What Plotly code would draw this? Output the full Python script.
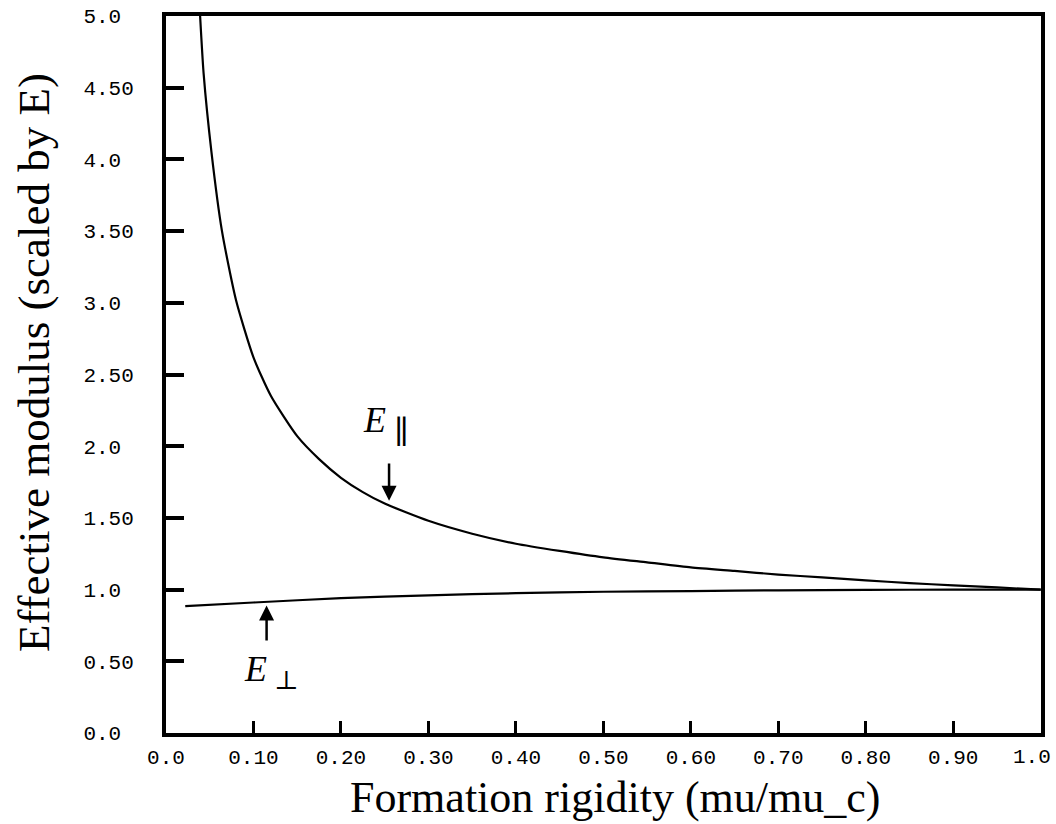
import plotly.graph_objects as go

# Data
x_par = [0.039, 0.043, 0.052, 0.064, 0.08, 0.10, 0.12, 0.15, 0.175, 0.20, 0.225, 0.25, 0.30,
         0.35, 0.40, 0.45, 0.50, 0.55, 0.60, 0.65, 0.70, 0.75, 0.80, 0.85, 0.90, 0.95, 1.00]
e_par = [5.0, 4.6, 4.05, 3.5, 3.02, 2.62, 2.35, 2.07, 1.91, 1.78, 1.68, 1.60, 1.48,
         1.39, 1.32, 1.27, 1.225, 1.19, 1.155, 1.13, 1.105, 1.085, 1.065, 1.045, 1.03, 1.015, 1.00]

x_perp = [0.022, 0.10, 0.20, 0.30, 0.40, 0.50, 0.60, 0.70, 0.80, 0.90, 1.00]
e_perp = [0.885, 0.91, 0.94, 0.96, 0.975, 0.985, 0.99, 0.995, 0.998, 1.0, 1.0]

x_tickvals = [0.0, 0.1, 0.2, 0.3, 0.4, 0.5, 0.6, 0.7, 0.8, 0.9, 1.0]
x_ticktext = ["0.0", "0.10", "0.20", "0.30", "0.40", "0.50", "0.60", "0.70", "0.80", "0.90", "1.0"]
y_tickvals = [0.0, 0.5, 1.0, 1.5, 2.0, 2.5, 3.0, 3.5, 4.0, 4.5, 5.0]
y_ticktext = ["0.0", "0.50", "1.0", "1.50", "2.0", "2.50", "3.0", "3.50", "4.0", "4.50", "5.0"]

NB = "\u00a0"
y_ticktext_padded = [t + NB * (4 - len(t)) for t in y_ticktext]
# the last x label sits flush with the right edge; it is drawn as a right-anchored text below
x_ticktext_drawn = x_ticktext[:-1] + [""]

fig = go.Figure()
fig.add_trace(go.Scatter(x=x_par, y=e_par, mode="lines", line_shape="spline",
                         line=dict(color="black", width=2.2, smoothing=0.6), showlegend=False))
fig.add_trace(go.Scatter(x=x_perp, y=e_perp, mode="lines", line_shape="spline",
                         line=dict(color="black", width=2.2, smoothing=0.6), showlegend=False))

tickfont = dict(family="Liberation Mono, Courier New, monospace", size=21, color="black")
serif = "Liberation Serif, Times New Roman, serif"
symfont = "DejaVu Serif, DejaVu Sans, serif"

fig.update_xaxes(range=[0, 1.0003], tickvals=x_tickvals, ticktext=x_ticktext_drawn,
                 showline=True, linecolor="black", linewidth=4, mirror=True,
                 ticks="inside", ticklen=12, tickwidth=3, tickcolor="black",
                 showgrid=False, zeroline=False, tickfont=tickfont,
                 ticklabelstandoff=2, automargin=False)
fig.update_yaxes(range=[0, 5.0003], tickvals=y_tickvals, ticktext=y_ticktext_padded,
                 showline=True, linecolor="black", linewidth=4, mirror=True,
                 ticks="inside", ticklen=18, tickwidth=4, tickcolor="black",
                 showgrid=False, zeroline=False, tickfont=tickfont,
                 ticklabelstandoff=24, automargin=False)

annotations = [
    # last x tick label
    dict(text=x_ticktext[-1], xref="paper", yref="paper", x=1.0137, y=-0.034,
         xanchor="right", yanchor="middle", showarrow=False, font=tickfont),
    # axis titles
    dict(text="Effective modulus (scaled by E)", xref="paper", yref="paper",
         x=-0.15, y=0.517, textangle=-90, showarrow=False,
         xanchor="center", yanchor="middle",
         font=dict(family=serif, size=45, color="black")),
    dict(text="Formation rigidity (mu/mu_c)", xref="paper", yref="paper",
         x=0.513, y=-0.0905, showarrow=False, xanchor="center", yanchor="middle",
         font=dict(family=serif, size=44, color="black")),
    # labels
    dict(text="<i>E</i>", xref="x", yref="y", x=0.238, y=2.183,
         showarrow=False, font=dict(family=serif, size=36, color="black")),
    dict(text="\u2225", xref="x", yref="y", x=0.2697, y=2.096,
         showarrow=False, font=dict(family=symfont, size=32, color="black")),
    dict(text="<i>E</i>", xref="x", yref="y", x=0.1023, y=0.443,
         showarrow=False, font=dict(family=serif, size=36, color="black")),
    dict(text="\u22a5", xref="x", yref="y", x=0.137, y=0.373,
         showarrow=False, font=dict(family=symfont, size=26, color="black")),
    # arrows
    dict(x=0.255, y=1.62, ax=0.255, ay=1.89, xref="x", yref="y", axref="x", ayref="y",
         text="", showarrow=True, arrowhead=2, arrowsize=1.2, arrowwidth=2.5,
         arrowcolor="black"),
    dict(x=0.115, y=0.89, ax=0.115, ay=0.635, xref="x", yref="y", axref="x", ayref="y",
         text="", showarrow=True, arrowhead=2, arrowsize=1.2, arrowwidth=2.5,
         arrowcolor="black"),
]

fig.update_layout(width=1056, height=824, plot_bgcolor="white", paper_bgcolor="white",
                  margin=dict(l=166, r=15, t=16, b=91), annotations=annotations,
                  showlegend=False)

fig.write_html("out.html")
